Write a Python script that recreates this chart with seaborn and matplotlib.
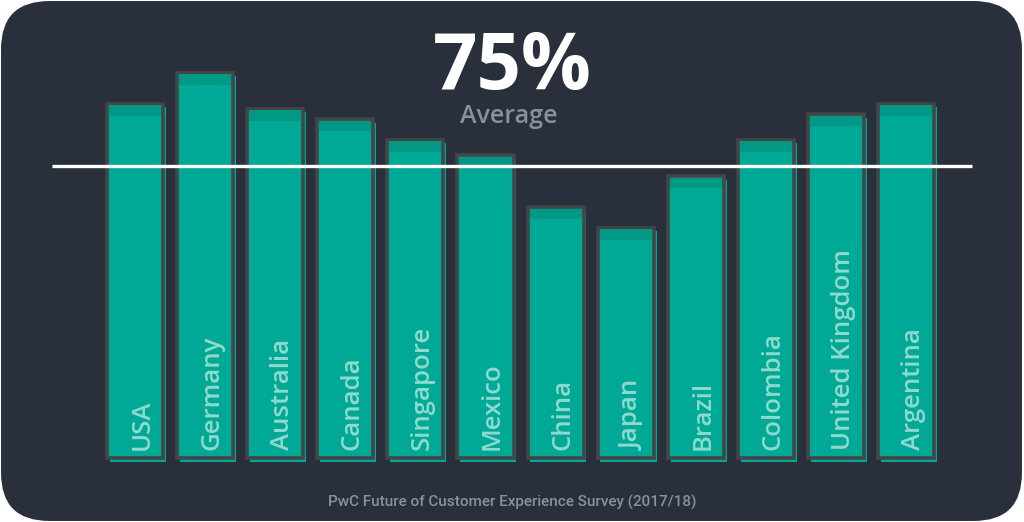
import matplotlib
matplotlib.use("Agg")
import matplotlib.pyplot as plt
import pandas as pd
import seaborn as sns
from matplotlib.patches import FancyBboxPatch

# data
countries = ["USA", "Germany", "Australia", "Canada", "Singapore", "Mexico",
             "China", "Japan", "Brazil", "Colombia", "United Kingdom", "Argentina"]
scores = [81, 84, 80.5, 79.5, 77.5, 76, 71, 69, 74, 77.5, 80, 81]
average = 75
source = "PwC Future of Customer Experience Survey (2017/18)"

BG = "#29303b"
TEAL = "#00a896"
TEAL_DARK = "#019886"
EDGE = "#444547"
LABEL = "#8edacf"
GREY = "#8b919a"

# value axis does not start at zero in the original
BASE = 46.7

df = pd.DataFrame({"country": countries, "score": scores})
df["height"] = df["score"] - BASE

sns.set_theme(style="white")
plt.rcParams["font.family"] = ["Open Sans", "DejaVu Sans"]

fig = plt.figure(figsize=(10.24, 5.22), dpi=100, facecolor="white")
fig.patches.append(FancyBboxPatch(
    (0.001, 0.002), 0.997, 0.996, boxstyle="round,pad=0,rounding_size=0.047",
    transform=fig.transFigure, facecolor=BG, edgecolor="none",
    mutation_aspect=1024 / 522, zorder=-5))

ax = fig.add_axes([0, 0, 1, 1])
ax.set_facecolor("none")
ax.set_zorder(2)

# shadow layer for the hand-drawn look
sns.barplot(data=df, x="country", y="height", color=TEAL, saturation=1,
            width=0.8, ax=ax, zorder=1)
for p in ax.patches:
    p.set_x(p.get_x() + 0.04)
    p.set_y(p.get_y() - 0.35)
    p.set_edgecolor("none")
n_shadow = len(ax.patches)

sns.barplot(data=df, x="country", y="height", color=TEAL, saturation=1,
            width=0.8, ax=ax, zorder=2, edgecolor=EDGE, linewidth=2.6)
bars = ax.patches[n_shadow:]

# darker band at the top of each bar
for p in bars:
    ax.bar(p.get_x() + p.get_width() / 2, 1.0, width=p.get_width() * 0.93,
           bottom=p.get_height() - 1.15, color=TEAL_DARK, edgecolor="none",
           linewidth=0, zorder=3)

for i, name in enumerate(countries):
    ax.text(i + 0.1, 0.75, name, rotation=90, ha="center", va="bottom",
            color=LABEL, fontsize=18.5, fontweight="semibold", zorder=4)

ax.hlines(average - BASE, -1.18, 11.94, color="white", lw=2.4, zorder=5)

# pixel mapping: bar pitch 70.1 px, 10.33 px per point, baseline at y=458
ax.set_xlim(-135 / 70.1, (1024 - 135) / 70.1)
ax.set_ylim(-64 / 10.33, 458 / 10.33)
ax.axis("off")

fig.text(0.5, 0.868, f"{average}%", ha="center", va="center", color="white",
         fontsize=56, fontweight="bold")
fig.text(0.497, 0.776, "Average", ha="center", va="center", color=GREY,
         fontsize=18, fontweight="semibold")
fig.text(0.5, 0.037, source, ha="center", va="center", color=GREY,
         fontsize=11, fontweight="medium", family=["Roboto", "DejaVu Sans"])

fig.savefig("out.png", dpi=100, facecolor="white")
